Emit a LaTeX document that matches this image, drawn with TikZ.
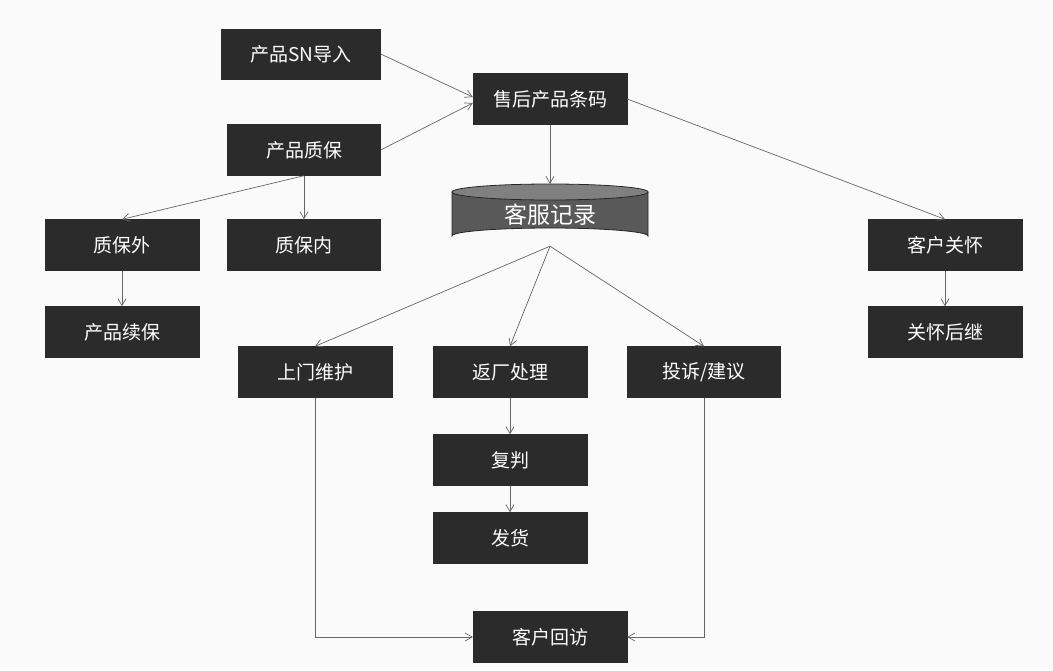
\documentclass[tikz,border=0pt]{standalone}
\usepackage{fontspec}
\setmainfont{Noto Sans CJK SC}
\usetikzlibrary{arrows.meta}
\begin{document}
\begin{tikzpicture}[x=1pt,y=-1pt,
 box/.style={fill=black!83,draw=black!83,text=white,minimum width=154pt,minimum height=51pt,inner sep=0pt,font=\fontsize{19}{22}\selectfont},
 arr/.style={draw=black!60,line width=0.7pt,-{Straight Barb[length=7pt,width=8pt]}}]
\fill[white!98!black] (0,0) rectangle (1053,670);
\useasboundingbox (0,0) rectangle (1053,670);
\node[box,minimum width=159pt,minimum height=50pt] (sn) at (301,54) {产品SN导入};
\node[box] (tm) at (550,99) {售后产品条码};
\node[box,minimum width=153pt] (zb) at (304,150) {产品质保};
% cylinder
\fill[black!65,draw=black!85,line width=0.8pt] (452,192) -- (452,236) arc[start angle=180,end angle=360,x radius=98,y radius=8] -- (648,192) -- cycle;
\fill[black!50,draw=black!85,line width=0.8pt] (550,192) ellipse[x radius=98,y radius=8];
\node[inner sep=0pt,minimum width=196pt,minimum height=62pt,text=white,font=\fontsize{23}{26}\selectfont] (kf) at (550,215) {客服记录};
\node[box] (zbw) at (122,245) {质保外};
\node[box,minimum width=153pt] (zbn) at (304,245) {质保内};
\node[box] (gh) at (945,245) {客户关怀};
\node[box] (xb) at (122,332) {产品续保};
\node[box] (hj) at (945,332) {关怀后继};
\node[box] (sm) at (315,372) {上门维护};
\node[box] (fc) at (510,372) {返厂处理};
\node[box,minimum width=153pt] (ts) at (704,372) {投诉/建议};
\node[box] (fp) at (510,460) {复判};
\node[box] (fh) at (510,538) {发货};
\node[box] (hf) at (550,637) {客户回访};
\draw[arr] (sn.east) -- (tm.west|-0,97);
\draw[arr] (zb.east) -- (tm.west|-0,103);
\draw[arr] (tm.south) -- (550,184);
\draw[arr] (tm.east) -- (gh.north);
\draw[arr] (zb.south) -- (zbw.north);
\draw[arr] (zb.south) -- (zbn.north);
\draw[arr] (zbw) -- (xb);
\draw[arr] (gh) -- (hj);
\draw[arr] (kf.south) -- (sm.north);
\draw[arr] (kf.south) -- (fc.north);
\draw[arr] (kf.south) -- (ts.north);
\draw[arr] (fc) -- (fp);
\draw[arr] (fp) -- (fh);
\draw[arr] (sm.south) |- (hf.west);
\draw[arr] (ts.south) |- (hf.east);
\end{tikzpicture}
\end{document}
